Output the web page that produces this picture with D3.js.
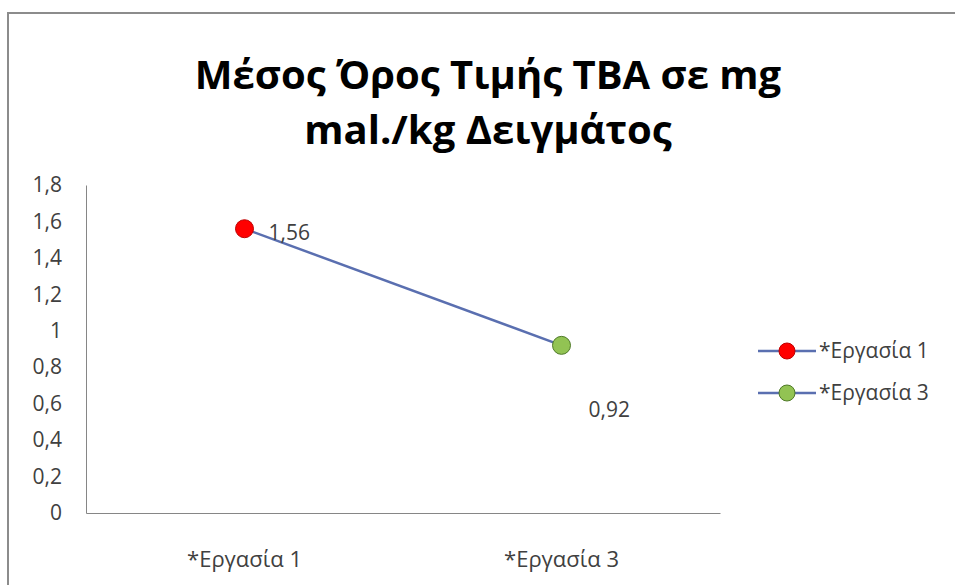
<!DOCTYPE html>
<html>
<head>
<meta charset="utf-8">
<script src="https://cdn.jsdelivr.net/npm/d3@7"></script>
<style>
  body { margin: 0; background: #fff; }
  svg text { font-family: "Open Sans", "Noto Sans", sans-serif; }
</style>
</head>
<body>
<div id="chart"></div>
<script>
var categories = ["*Εργασία 1", "*Εργασία 3"];
var values = [1.56, 0.92];
var labels = ["1,56", "0,92"];
var colors = ["#ff0000", "#92c353"];
var yTicks = [0, 0.2, 0.4, 0.6, 0.8, 1, 1.2, 1.4, 1.6, 1.8];
var titleLines = ["Μέσος Όρος Τιμής TBA σε mg", "mal./kg Δειγμάτος"];

var width = 955, height = 585;
var svg = d3.select("#chart").append("svg")
    .attr("width", width)
    .attr("height", height);

// frame (only top and left edges are visible in the shot)
svg.append("line").attr("x1", 7).attr("x2", width).attr("y1", 13).attr("y2", 13)
  .attr("stroke", "#8c8c8c").attr("stroke-width", 2);
svg.append("line").attr("x1", 8).attr("x2", 8).attr("y1", 12).attr("y2", height)
  .attr("stroke", "#8c8c8c").attr("stroke-width", 2);

// title
svg.append("g").selectAll("text")
  .data(titleLines)
  .enter().append("text")
    .attr("x", 488)
    .attr("y", function(d, i) { return 89 + i * 55; })
    .attr("text-anchor", "middle")
    .attr("font-size", "40px")
    .attr("font-weight", "bold")
    .attr("fill", "#000")
    .text(function(d) { return d; });

var x = d3.scaleBand().domain(categories).range([86, 720]);
var y = d3.scaleLinear().domain([0, 1.8]).range([513, 185]);

var fmt = function(d) { return String(d).replace(".", ","); };

// y axis
var yAxis = svg.append("g")
  .attr("transform", "translate(86,0)")
  .call(d3.axisLeft(y).tickValues(yTicks).tickSize(0).tickPadding(24).tickFormat(fmt));
yAxis.select(".domain").attr("stroke", "#868686");
yAxis.selectAll("text").attr("font-size", "21px").attr("fill", "#404040");

// x axis
var xAxis = svg.append("g")
  .attr("transform", "translate(0,513)")
  .call(d3.axisBottom(x).tickSize(0).tickPadding(38));
xAxis.select(".domain").attr("stroke", "#868686");
xAxis.selectAll("text").attr("font-size", "22px").attr("fill", "#404040");

var pts = categories.map(function(c, i) {
  return { cat: c, val: values[i], label: labels[i], color: colors[i] };
});

var line = d3.line()
  .x(function(d) { return x(d.cat) + x.bandwidth() / 2; })
  .y(function(d) { return y(d.val); });

svg.append("path")
  .datum(pts)
  .attr("d", line)
  .attr("fill", "none")
  .attr("stroke", "#5a6fb0")
  .attr("stroke-width", 2.5);

svg.selectAll("circle.pt")
  .data(pts)
  .enter().append("circle")
    .attr("class", "pt")
    .attr("cx", function(d) { return x(d.cat) + x.bandwidth() / 2; })
    .attr("cy", function(d) { return y(d.val); })
    .attr("r", 9)
    .attr("fill", function(d) { return d.color; })
    .attr("stroke", function(d, i) { return i == 0 ? "#c00000" : "#4f7a28"; })
    .attr("stroke-width", 1);

// data labels (placed like the original)
var labelOffset = [[24, 11], [27, 72]];
svg.selectAll("text.dl")
  .data(pts)
  .enter().append("text")
    .attr("class", "dl")
    .attr("x", function(d, i) { return x(d.cat) + x.bandwidth() / 2 + labelOffset[i][0]; })
    .attr("y", function(d, i) { return y(d.val) + labelOffset[i][1]; })
    .attr("font-size", "21px")
    .attr("fill", "#404040")
    .text(function(d) { return d.label; });

// legend
var legend = svg.selectAll("g.leg")
  .data(pts)
  .enter().append("g")
    .attr("class", "leg")
    .attr("transform", function(d, i) { return "translate(758," + (351 + i * 42) + ")"; });
legend.append("line")
  .attr("x1", 0).attr("x2", 58).attr("y1", 0).attr("y2", 0)
  .attr("stroke", "#5a6fb0").attr("stroke-width", 2.5);
legend.append("circle")
  .attr("cx", 29).attr("cy", 0).attr("r", 8)
  .attr("fill", function(d) { return d.color; })
  .attr("stroke", function(d, i) { return i == 0 ? "#c00000" : "#4f7a28"; });
legend.append("text")
  .attr("x", 61).attr("y", 7)
  .attr("font-size", "21px")
  .attr("fill", "#404040")
  .text(function(d) { return d.cat; });
</script>
</body>
</html>
